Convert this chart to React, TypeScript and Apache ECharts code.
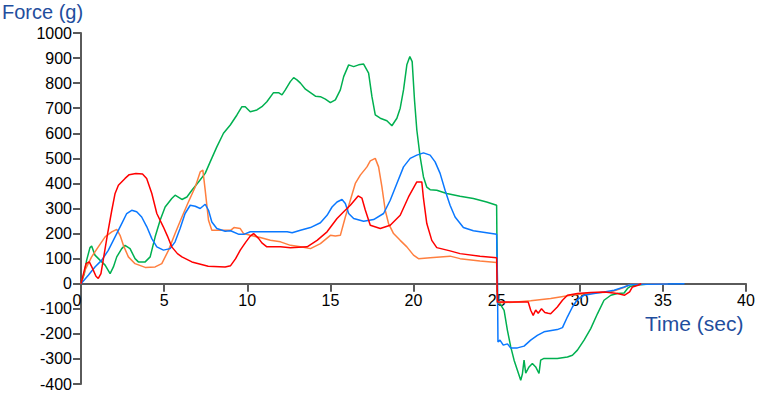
import React, { useEffect, useRef } from "react";
import * as echarts from "echarts";

const xTicks = { min: 0, max: 40, interval: 5 };
const yTicks = { min: -400, max: 1000, interval: 100 };

const seriesNames = ["Green", "Orange", "Blue", "Red"];
const seriesColors = ["#00b050", "#ff7f3f", "#0a78ff", "#ff0000"];

const red: number[][] = [
  [0,0],[0.15,40],[0.3,80],[0.5,87],[0.7,60],[0.9,30],[1.04,21],[1.2,40],[1.4,120],[1.6,200],[1.85,292],[2.05,360],[2.25,393],[2.65,420],[2.9,435],[3.3,440],[3.7,438],[3.95,420],[4.26,360],[4.56,280],[4.95,227],[5.2,190],[5.46,147],[5.8,120],[6.07,107],[6.67,87],[7.65,70],[8.67,67],[9.0,72],[9.3,100],[9.58,134],[9.9,165],[10.18,190],[10.38,200],[10.68,181],[10.88,163],[11.18,147],[12,147],[12.6,143],[13.6,147],[14.2,173],[14.8,207],[15.4,260],[15.8,287],[16.2,313],[16.67,350],[16.9,341],[17.1,294],[17.4,233],[18.0,220],[18.6,233],[19.2,273],[19.7,346],[20.2,406],[20.5,406],[20.6,340],[20.8,240],[21.1,173],[21.4,144],[22.2,131],[22.8,120],[24,110],[25.0,104],[25.05,-73],[26.9,-73],[27.05,-106],[27.2,-126],[27.35,-105],[27.5,-118],[27.7,-100],[27.9,-115],[28.1,-118],[28.25,-120],[28.65,-93],[28.96,-66],[29.26,-46],[29.86,-39],[30.66,-35],[31.5,-33],[32.27,-39],[32.7,-46],[33.0,-33],[33.17,-13],[33.5,-6],[33.7,0]
];

const orange: number[][] = [
  [0,0],[0.24,54],[0.64,107],[1.04,147],[1.45,187],[1.85,207],[2.15,217],[2.35,193],[2.55,153],[2.85,107],[3.25,80],[3.86,65],[4.46,67],[4.86,80],[5.26,133],[5.66,200],[6.07,266],[6.46,326],[6.87,386],[7.17,446],[7.33,453],[7.47,373],[7.67,253],[7.87,213],[8.67,213],[9.0,213],[9.2,224],[9.58,220],[9.78,200],[10.18,193],[10.78,184],[11.39,173],[12,167],[12.6,153],[13.2,147],[13.8,140],[14.4,160],[15,193],[15.3,190],[15.6,193],[15.9,266],[16.2,333],[16.5,400],[16.8,433],[17.2,466],[17.4,490],[17.7,500],[17.9,466],[18.1,386],[18.3,293],[18.5,240],[18.8,200],[19.2,173],[19.6,147],[20.0,114],[20.3,100],[21,104],[22.2,110],[22.8,100],[24,91],[25,85],[25.05,-76],[26,-74],[27.05,-68],[28.25,-59],[29.46,-46],[30.66,-37],[31.87,-33],[32.65,-15],[33.07,-2],[35.3,0]
];

const green: number[][] = [
  [0,0],[0.2,40],[0.34,94],[0.54,144],[0.64,150],[0.84,114],[1.14,94],[1.45,74],[1.75,40],[1.95,67],[2.15,107],[2.45,140],[2.65,153],[2.95,140],[3.25,100],[3.45,87],[3.86,87],[4.16,107],[4.46,187],[4.76,253],[5.06,306],[5.46,340],[5.66,353],[6.07,336],[6.37,346],[6.67,373],[7.07,406],[7.47,440],[7.77,486],[8.17,546],[8.57,600],[8.98,633],[9.38,673],[9.68,706],[9.88,706],[10.18,686],[10.58,693],[10.88,706],[11.18,726],[11.58,762],[11.88,762],[12.09,753],[12.29,773],[12.59,806],[12.79,822],[12.99,813],[13.2,800],[13.5,776],[13.8,762],[14.1,748],[14.4,746],[14.7,736],[15.0,722],[15.3,733],[15.6,773],[15.8,826],[16.1,873],[16.4,866],[16.7,873],[17.0,876],[17.3,840],[17.5,746],[17.7,673],[18.0,660],[18.4,650],[18.7,630],[19.0,660],[19.2,700],[19.4,773],[19.6,873],[19.78,906],[19.92,886],[20.06,733],[20.2,613],[20.4,506],[20.6,426],[20.8,385],[21.0,375],[21.4,373],[22.0,360],[22.8,349],[23.6,340],[24.4,326],[25.0,313],[25.05,-75],[25.2,-79],[25.45,-106],[25.65,-186],[25.85,-252],[26.05,-305],[26.25,-345],[26.45,-385],[26.55,-360],[26.65,-305],[26.75,-357],[26.95,-332],[27.15,-318],[27.35,-332],[27.55,-358],[27.65,-305],[27.85,-298],[28.65,-298],[29.26,-292],[29.56,-285],[29.86,-265],[30.26,-225],[30.66,-179],[31.07,-119],[31.46,-66],[31.87,-46],[32.27,-39],[32.67,-37],[32.87,-19],[33.07,-10],[33.5,-5],[34.3,0]
];

const blue: number[][] = [
  [0,0],[0.44,34],[0.84,67],[1.25,94],[1.64,133],[2.05,187],[2.45,240],[2.75,280],[3.05,293],[3.35,287],[3.65,266],[3.96,227],[4.26,180],[4.56,147],[4.96,134],[5.36,140],[5.66,167],[5.96,220],[6.26,280],[6.57,313],[6.87,309],[7.17,300],[7.47,317],[7.67,293],[7.87,246],[8.17,220],[8.67,209],[9.0,211],[9.5,197],[9.8,197],[10.18,207],[11,207],[12.4,207],[12.7,203],[13.2,213],[13.8,224],[14.4,243],[14.8,273],[15.1,306],[15.4,326],[15.7,336],[15.9,320],[16.1,280],[16.4,260],[17.0,249],[17.6,256],[18.2,280],[18.6,333],[19.0,400],[19.4,466],[19.8,500],[20.2,513],[20.6,522],[21.0,513],[21.3,486],[21.6,440],[21.9,373],[22.2,313],[22.5,266],[23.0,224],[23.6,211],[24.4,203],[25.0,197],[25.05,20],[25.08,-232],[25.2,-225],[25.4,-245],[25.65,-240],[25.85,-256],[26.25,-256],[26.65,-249],[27.05,-225],[27.45,-206],[27.85,-192],[28.65,-183],[28.96,-175],[29.26,-132],[29.56,-93],[29.86,-63],[30.26,-46],[30.86,-39],[31.47,-33],[32.07,-26],[32.67,-13],[33.07,-3],[36.3,0]
];

const yTitle = "Force (g)";
const xTitle = "Time (sec)";

export default function App() {
  const ref = useRef<HTMLDivElement>(null);
  useEffect(() => {
    if (!ref.current) return;
    const chart = echarts.init(ref.current, null, { renderer: "svg" });
    const axisColor = "#5a5a5a";
    const font = "'Liberation Sans', Arial, sans-serif";
    const data = [green, orange, blue, red];
    const gridTop = 33;
    const gridBottom = 9;
    const plotH = 393 - gridTop - gridBottom;
    // distance from the bottom of the plot up to the value-0 line
    const zeroOffset = ((0 - yTicks.min) / (yTicks.max - yTicks.min)) * plotH;
    chart.setOption({
      animation: false,
      backgroundColor: "#ffffff",
      grid: { left: 81, right: 36, top: gridTop, bottom: gridBottom, containLabel: false, outerBoundsMode: "none" },
      xAxis: [
        {
          type: "value",
          min: xTicks.min,
          max: xTicks.max,
          interval: xTicks.interval,
          axisLine: { show: true, onZero: true, lineStyle: { color: axisColor, width: 2 } },
          axisTick: { show: true, length: 8, lineStyle: { color: axisColor, width: 2 } },
          axisLabel: { show: false },
          splitLine: { show: false },
        },
        {
          type: "value",
          position: "bottom",
          offset: -zeroOffset,
          min: xTicks.min,
          max: xTicks.max,
          interval: xTicks.interval,
          axisLine: { show: false, onZero: false },
          axisTick: { show: false },
          axisLabel: {
            show: true,
            fontSize: 16,
            color: "#000",
            fontFamily: font,
            margin: 9,
            formatter: (v: number) => (v === 0 ? "{z|0}" : String(v)),
            rich: { z: { fontSize: 16, color: "#000", fontFamily: font, padding: [0, 8, 0, 0] } },
          },
          splitLine: { show: false },
        },
      ],
      yAxis: {
        type: "value",
        min: yTicks.min,
        max: yTicks.max,
        interval: yTicks.interval,
        axisLine: { show: true, onZero: false, lineStyle: { color: axisColor, width: 2 } },
        axisTick: { show: true, length: 8, lineStyle: { color: axisColor, width: 2 } },
        axisLabel: {
          fontSize: 16,
          color: "#000",
          fontFamily: font,
          margin: 9,
          formatter: (v: number) => String(v),
        },
        splitLine: { show: false },
      },
      graphic: [
        {
          type: "text",
          left: 2,
          top: 2,
          style: { text: yTitle, fontSize: 20, fill: "#1f4e9e", fontFamily: font },
        },
        {
          type: "text",
          left: 645,
          top: 313,
          style: { text: xTitle, fontSize: 21, fill: "#1f4e9e", fontFamily: font },
        },
      ],
      series: data.map((d, i) => ({
        name: seriesNames[i],
        type: "line",
        xAxisIndex: 0,
        data: d,
        showSymbol: false,
        symbol: "none",
        lineStyle: { color: seriesColors[i], width: 1.5 },
        itemStyle: { color: seriesColors[i] },
      })),
    });
    return () => chart.dispose();
  }, []);
  return (
    <div
      ref={ref}
      style={{ position: "fixed", left: 0, top: 0, width: 782, height: 393 }}
    />
  );
}
